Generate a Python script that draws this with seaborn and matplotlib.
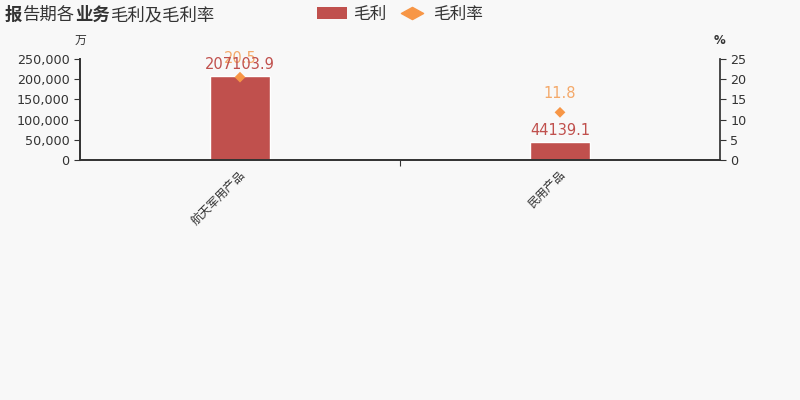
import matplotlib
matplotlib.use('Agg')
import matplotlib.pyplot as plt
import seaborn as sns
import pandas as pd
from matplotlib.lines import Line2D
from matplotlib.patches import Patch
from matplotlib.path import Path
from matplotlib.ticker import FuncFormatter, FixedLocator

# data
categories = ['航天军用产品', '民用产品']
gross_profit = [207103.9, 44139.1]
gross_margin = [20.5, 11.8]

bar_color = '#c0504d'
rate_color = '#f79646'
rate_text_color = '#f4a96a'
text_color = '#333333'
bg = '#f8f8f8'

sns.set_theme(style='white')
plt.rcParams['font.family'] = ['DejaVu Sans', 'Noto Sans CJK SC']
plt.rcParams['axes.unicode_minus'] = False
cjk = ['Noto Sans CJK SC', 'DejaVu Sans']

df = pd.DataFrame({'cat': categories, 'profit': gross_profit, 'rate': gross_margin})

fig = plt.figure(figsize=(8, 4), dpi=100, facecolor=bg)
ax = fig.add_axes([0.1, 0.6, 0.8, 0.2525])
ax.set_facecolor(bg)

sns.barplot(data=df, x='cat', y='profit', color=bar_color, width=0.1875,
            saturation=1, ax=ax)
ax.set_xlim(-0.5, 1.5)
ax.set_ylim(0, 250000)
ax.set_yticks([0, 50000, 100000, 150000, 200000, 250000])
ax.yaxis.set_major_formatter(FuncFormatter(lambda v, p: f'{int(v):,}'))
ax.set_xlabel('')
ax.set_ylabel('')
ax.xaxis.set_major_locator(FixedLocator([0.5]))
ax.set_xticklabels([''])
for i, c in enumerate(categories):
    ax.text(i - 0.005, -0.08, c, transform=ax.get_xaxis_transform(), rotation=45,
            ha='right', va='top', rotation_mode='anchor', fontsize=8.5, color=text_color,
            family=cjk)

ax2 = ax.twinx()
sns.scatterplot(data=df, x='cat', y='rate', marker='D', s=30, color=rate_color,
                edgecolor='none', ax=ax2, zorder=5)
ax2.set_ylim(0, 25)
ax2.set_yticks([0, 5, 10, 15, 20, 25])
ax2.set_ylabel('')
ax2.set_xlabel('')

# rate labels first, bar labels drawn over them
for i, v in enumerate(gross_margin):
    ax2.annotate(f'{v}', (i, v), xytext=(0, 8), textcoords='offset points',
                 ha='center', va='bottom', fontsize=10.5, color=rate_text_color, zorder=6)
for i, v in enumerate(gross_profit):
    ax2.annotate(f'{v}', (i, v), xycoords=ax.transData, xytext=(0, 3),
                 textcoords='offset points', ha='center', va='bottom',
                 fontsize=10.5, color=bar_color, zorder=7)

for a in (ax, ax2):
    a.spines['top'].set_visible(False)
    for s in ('left', 'right', 'bottom'):
        a.spines[s].set_color(text_color)
    a.tick_params(axis='both', colors=text_color, labelsize=9.2, length=4, width=0.8,
                  direction='out')
ax.spines['right'].set_visible(False)
ax.tick_params(axis='y', left=True)
ax.tick_params(axis='x', bottom=True)
ax2.tick_params(axis='y', right=True)

ax.text(0, 1.12, '万', transform=ax.transAxes, ha='center', va='bottom',
        fontsize=8.5, color=text_color, family=cjk)
ax2.text(1, 1.12, '%', transform=ax2.transAxes, ha='center', va='bottom',
         fontsize=8.5, color=text_color, fontweight='bold')

# title with mixed weights, each piece placed right after the previous one
parts = [('报', 'bold'), ('告期各', 'normal'), ('业务', 'bold'), ('毛利及毛利率', 'normal')]
prev = fig.text(5 / 800, 1 - 20 / 400, parts[0][0], fontsize=12.5, fontweight=parts[0][1],
                color=text_color, ha='left', va='baseline', family=cjk)
for s, w in parts[1:]:
    prev = ax.annotate(s, xy=(1, 0), xycoords=prev, xytext=(0.3, 0),
                       textcoords='offset points', fontsize=12.5, fontweight=w,
                       color=text_color, ha='left', va='bottom', family=cjk,
                       annotation_clip=False)

wide_diamond = Path([(-1, 0), (0, 0.55), (1, 0), (0, -0.55), (-1, 0)],
                    [Path.MOVETO, Path.LINETO, Path.LINETO, Path.LINETO, Path.CLOSEPOLY])
handles = [Patch(facecolor=bar_color, edgecolor='none', label='毛利'),
           Line2D([], [], marker=wide_diamond, color=rate_color, linestyle='none',
                  markersize=16, label='毛利率')]
fig.legend(handles=handles, loc='center', bbox_to_anchor=(400 / 800, 1 - 14 / 400),
           ncol=2, frameon=False, handlelength=1.8, handletextpad=0.4,
           columnspacing=0.6, labelcolor=text_color,
           prop={'family': cjk, 'size': 12})

fig.savefig('out.png', dpi=100, facecolor=bg)
